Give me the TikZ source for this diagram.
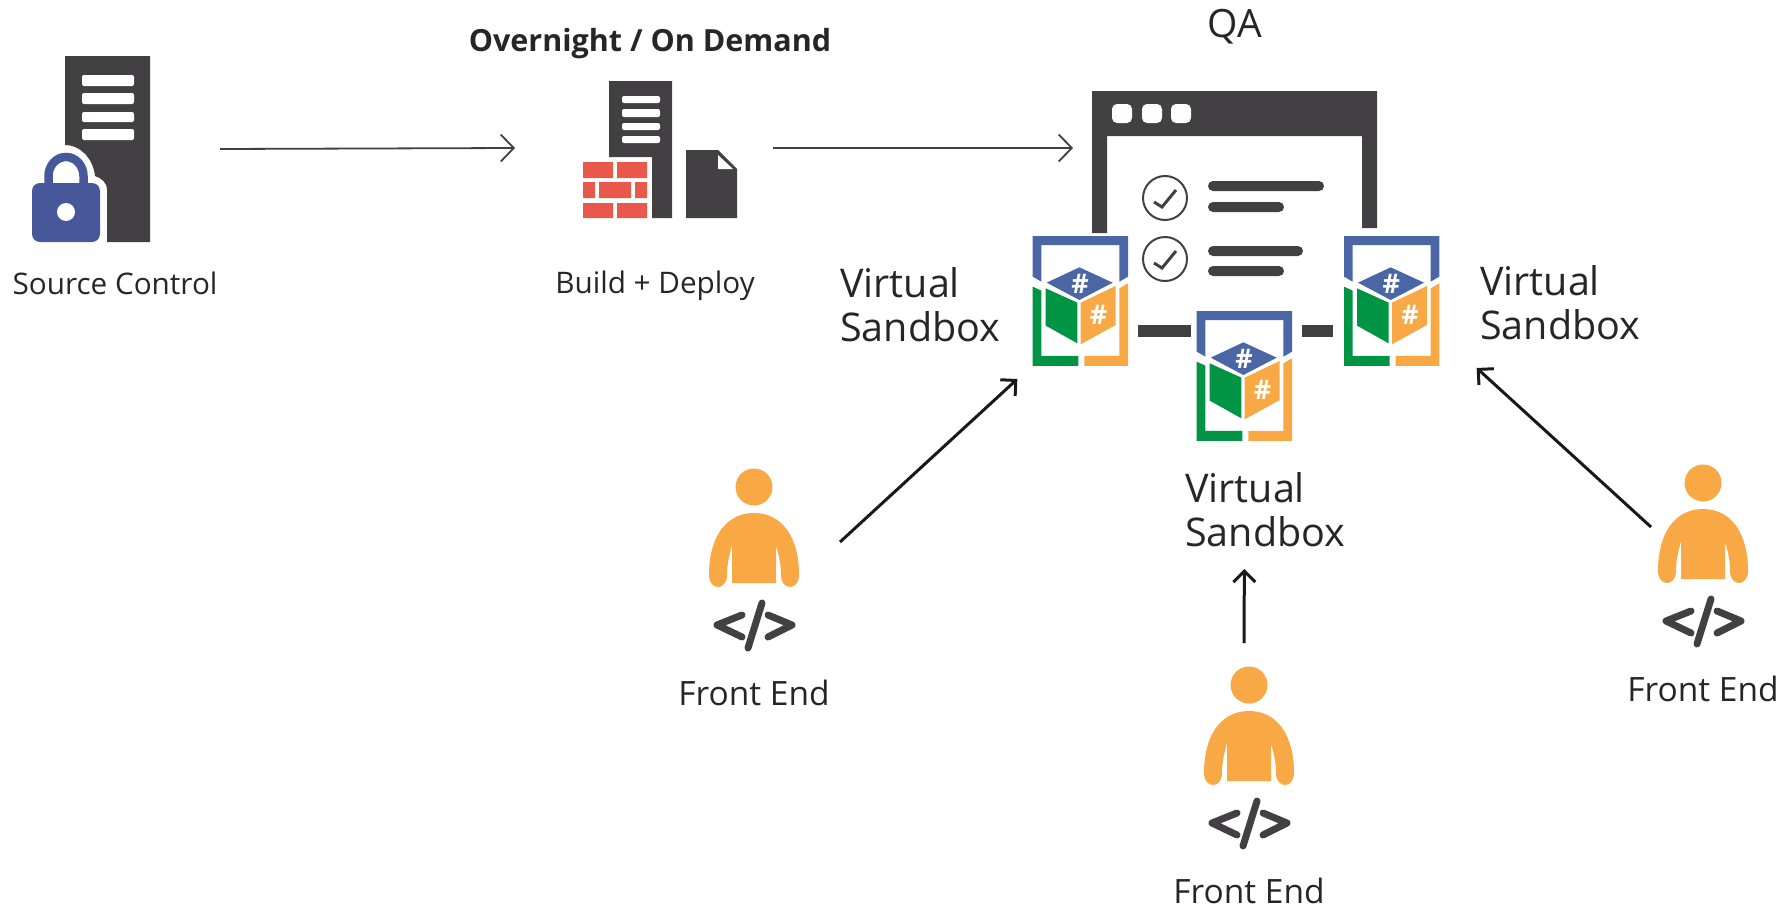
\documentclass[tikz,border=0pt]{standalone}
\usepackage{fontspec}
\setmainfont{Open Sans}
\usetikzlibrary{positioning,arrows.meta}
\definecolor{darkicon}{HTML}{434044}
\definecolor{lockblue}{HTML}{46579A}
\definecolor{boxblue}{HTML}{4A66A4}
\definecolor{boxgreen}{HTML}{009444}
\definecolor{boxorange}{HTML}{F8A945}
\definecolor{brickred}{HTML}{E9594B}
\tikzstyle{iconbox}=[rectangle, inner sep=0pt, outer sep=0pt]
\tikzstyle{lbl}=[inner sep=0pt, text=black!85, font=\fontsize{29.7}{32}\selectfont]
\tikzstyle{devlbl}=[inner sep=0pt, text=black!85, font=\fontsize{33.5}{36}\selectfont]
\tikzstyle{biglbl}=[inner sep=0pt, text=black!85, align=left, font=\fontsize{39.5}{44}\selectfont]
\tikzstyle{slot}=[fill=white, rounded corners=2pt]
\tikzstyle{pipe}=[-{Straight Barb[length=13pt,width=27pt]}, line width=1.8pt, draw=black!75]
\tikzstyle{devline}=[-{Straight Barb[length=11pt,width=22pt]}, line width=3pt, draw=black!90]
\tikzstyle{hash}=[inner sep=0pt, text=white, font=\fontsize{27}{27}\selectfont\bfseries]
\newcommand\sandboxnode[4][]{
    \begin{scope}[shift={(#3,#4)}, x=0.3333pt, y=-0.3333pt]
        \fill[boxblue] (0,0) -- (286,0) -- (286,122) -- (260,137) -- (260,27) -- (26,27) -- (26,137) -- (0,122) -- cycle;
        \fill[boxgreen] (0,152) -- (26,164) -- (26,360) -- (137,360) -- (137,390) -- (0,390) -- cycle;
        \fill[boxorange] (155,360) -- (260,360) -- (260,157) -- (286,142) -- (286,390) -- (155,390) -- cycle;
        \fill[boxblue] (42,140) -- (140,94) -- (240,140) -- (140,192) -- cycle;
        \fill[boxgreen] (39,157) -- (134,200) -- (134,322) -- (39,269) -- cycle;
        \fill[boxorange] (144,200) -- (249,150) -- (249,267) -- (144,325) -- cycle;
        \node ({#2}h) [hash] at (142,144) {\#};
        \node ({#2}k) [hash] at (198,237) {\#};
        \node (#2) [iconbox, #1] at (143,195) {};
    \end{scope}
}
\newcommand\devnode[4][]{
    \begin{scope}[shift={(#3,#4)}]
        \fill[boxorange] (0,0) circle (18.5pt);
        \fill[boxorange] (-45,88) .. controls (-45,50) and (-28,26) .. (0,26) .. controls (28,26) and (45,50) .. (45,88)
            .. controls (45,104) and (27,104) .. (27,88) .. controls (27,75) and (24,66) .. (22,58) -- (22,96) -- (-22,96) -- (-22,58)
            .. controls (-24,66) and (-27,75) .. (-27,88) .. controls (-27,104) and (-45,104) .. (-45,88) -- cycle;
        \draw[darkicon, line width=7pt, line cap=round, line join=round] (-12,128) -- (-37,138) -- (-12,150);
        \draw[darkicon, line width=7pt, line cap=round] (8,116) -- (-6,161);
        \draw[darkicon, line width=7pt, line cap=round, line join=round] (14,128) -- (38,138) -- (14,150);
        \node ({#2}t) [devlbl] at (0,206) {Front End};
        \node (#2) [iconbox, #1] {};
    \end{scope}
}

\begin{document}
\begin{tikzpicture}[x=1pt, y=-1pt]
    \useasboundingbox (0,0) rectangle (1785,910);

% source control
    \fill[darkicon] (65,56) -- (150,56) -- (150,242) -- (107,242) -- (107,190) .. controls (107,182) and (101,178) .. (95,176) .. controls (93,158) and (80,145) .. (65,145) -- cycle;
    \foreach \y/\h in {75/11, 93/11, 112/10, 129/11}
        \fill[slot] (82,\y) rectangle (134,\y+\h);
    \draw[lockblue, line width=8.5pt] (48.5,186) -- (48.5,176) arc[start angle=180, end angle=0, x radius=17.5pt, y radius=19pt] -- (83.5,186);
    \fill[lockblue, rounded corners=8pt] (32,183) rectangle (100,242);
    \fill[white] (66,212) circle (9pt);
    \node (srcctl) [iconbox, minimum width=190pt, minimum height=190pt] at (125,149) {};
    \node (srclbl) [lbl, below=28pt of srcctl, xshift=-10pt] {Source Control};

% build
    \fill[darkicon] (609,81) -- (672,81) -- (672,218) -- (652,218) -- (652,157) -- (609,157) -- cycle;
    \foreach \y/\h in {96/7, 109/8, 123/7, 136/7}
        \fill[slot] (622,\y) rectangle (660,\y+\h);
    \fill[brickred] (583,162) rectangle (613,178) (617,162) rectangle (647,178);
    \fill[brickred] (583,182) rectangle (595,198) (599,182) rectangle (631,198) (635,182) rectangle (647,198);
    \fill[brickred] (583,203) rectangle (613,218) (617,203) rectangle (647,218);
    \fill[darkicon] (686,150) -- (718,150) -- (737,169) -- (737,218) -- (686,218) -- cycle;
    \fill[white] (718,155) -- (718,169) -- (733,169) -- cycle;
    \node (build) [iconbox, minimum width=258pt, minimum height=190pt] at (644,148) {};
    \node (buildlbl) [lbl, below=28pt of build, xshift=11pt] {Build + Deploy};
    \node (nightlbl) [lbl, font=\fontsize{30.5}{32}\selectfont\bfseries] at (650,44) {Overnight / On Demand};

% QA window
    \fill[darkicon] (1092,91) -- (1377,91) -- (1377,228) -- (1362,228) -- (1362,136) -- (1107,136) -- (1107,233) -- (1092,233) -- cycle;
    \foreach \x in {1112,1142,1171}
        \fill[slot, rounded corners=5pt] (\x,104) rectangle (\x+20,123);
    \foreach \y in {198,259} {
        \draw[darkicon, line width=2pt] (1165,\y) circle (22pt);
        \draw[darkicon, line width=3pt] (1154,\y+4) -- (1162,\y+9) -- (1176,\y-8);
    }
    \fill[darkicon, rounded corners=5pt] (1208,181) rectangle (1324,191);
    \fill[darkicon, rounded corners=5pt] (1208,202) rectangle (1284,212);
    \fill[darkicon, rounded corners=5pt] (1208,246) rectangle (1303,256);
    \fill[darkicon, rounded corners=5pt] (1208,266) rectangle (1284,276);
    \fill[darkicon] (1138,325) rectangle (1191,337);
    \fill[darkicon] (1302,325) rectangle (1333,337);
    \node (qa) [iconbox, minimum width=324pt, minimum height=100pt] at (1235,148) {};
    \node (qalbl) [lbl, font=\fontsize{39}{42}\selectfont] at (1235,27) {QA};

% sandboxes
    \sandboxnode[minimum width=126pt, minimum height=156pt]{sba}{1032.7}{236}
    \sandboxnode[minimum width=1pt, minimum height=386pt]{sbb}{1196.7}{311}
    \sandboxnode[minimum width=170pt, minimum height=134pt]{sbc}{1344}{236}
    \node (sbalbl) [biglbl, anchor=west] at (840,305) {Virtual\\Sandbox};
    \node (sbblbl) [biglbl, anchor=west] at (1185,510) {Virtual\\Sandbox};
    \node (sbclbl) [biglbl, anchor=west] at (1480,303) {Virtual\\Sandbox};

% developers
    \devnode[anchor=north east, minimum width=172pt, minimum height=170pt, at={(86,55)}]{deva}{754}{487}
    \devnode[anchor=north, minimum width=100pt, minimum height=260pt, at={(-5,-42)}]{devb}{1249}{685}
    \devnode[anchor=north west, minimum width=104pt, minimum height=185pt, at={(-52,44)}]{devc}{1703}{483}

    \draw[pipe] (srcctl.east) -- (build.west);
    \draw[pipe] (build.east) -- (qa.west);
    \draw[devline] (deva.north east) -- (sba.south west);
    \draw[devline] (devb.north) -- (sbb.south);
    \draw[devline] (devc.north west) -- (sbc.south east);

\end{tikzpicture}
\end{document}
